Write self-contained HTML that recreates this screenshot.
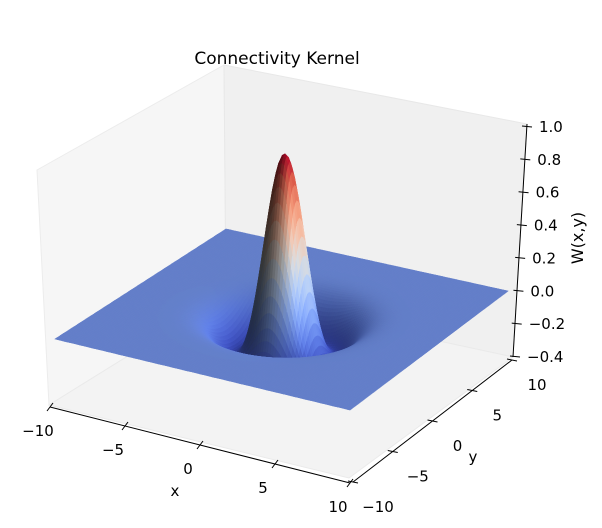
<!DOCTYPE html>
<html><head><meta charset="utf-8"><style>
html,body{margin:0;padding:0;background:#fff;}
svg{display:block;font-family:"DejaVu Sans","Liberation Sans",sans-serif;}
</style></head><body>
<svg id="chart" width="602" height="528" viewBox="0 0 602 528">
  <rect width="602" height="528" fill="#fff"/>
  <polygon points="37,170 224,65 226,295 49,405" fill="#f6f6f6" stroke="#ececec" stroke-width="1"/>
  <polygon points="224,65 527,124 513,357 226,295" fill="#f0f0f0" stroke="#e8e8e8" stroke-width="1"/>
  <polygon points="49,405 226,295 513,357 349,478" fill="#f3f3f3" stroke="#eaeaea" stroke-width="1"/>
  <g id="surface"></g>
  <g id="axes"></g>
  <text x="277" y="64" font-size="17" text-anchor="middle">Connectivity Kernel</text>
  <text x="175" y="496" font-size="15" text-anchor="middle">x</text>
  <text x="473" y="462" font-size="15" text-anchor="middle">y</text>
  <text x="0" y="0" font-size="16" text-anchor="middle" transform="translate(583,238) rotate(-90)">W(x,y)</text>
</svg>
<script>
// kernel data: W = A (1 - b r^2) exp(-r^2 / (2 sigma^2))
const amplitude = [1.0];
const curvature = [0.25];
const sigma = [1.65];
const xRange = [-10, 10];
const yRange = [-10, 10];
const xTicks = [-10, -5, 0, 5, 10];
const yTicks = [-10, -5, 0, 5, 10];
const zTicks = [-0.4, -0.2, 0.0, 0.2, 0.4, 0.6, 0.8, 1.0];
const zTickLabels = ["\u22120.4", "\u22120.2", "0.0", "0.2", "0.4", "0.6", "0.8", "1.0"];
const xTickLabels = ["\u221210", "\u22125", "0", "5", "10"];
const yTickLabels = ["\u221210", "\u22125", "0", "5", "10"];

const NS = "http://www.w3.org/2000/svg";
function W(x, y) {
  const r2 = x * x + y * y;
  return amplitude[0] * (1 - curvature[0] * r2) * Math.exp(-r2 / (2 * sigma[0] * sigma[0]));
}
const C = { L: [55, 339, 163], F: [350, 410, 172], R: [508, 291, 160], B: [226, 229, 158] };
function proj(x, y, z) {
  const u = (x - xRange[0]) / (xRange[1] - xRange[0]);
  const v = (y - yRange[0]) / (yRange[1] - yRange[0]);
  const out = [];
  for (let k = 0; k < 3; k++) {
    out[k] = C.L[k] * (1 - u) * (1 - v) + C.F[k] * u * (1 - v) + C.R[k] * u * v + C.B[k] * (1 - u) * v;
  }
  return [out[0], out[1] - z * out[2]];
}
const stops = [[59,76,192],[98,130,234],[141,176,254],[184,208,249],[221,221,221],[245,196,173],[244,154,123],[222,96,77],[180,4,38]];
function cmap(t) {
  t = Math.max(0, Math.min(1, t)) * (stops.length - 1);
  const i = Math.min(stops.length - 2, Math.floor(t)), f = t - i;
  return stops[i].map((c, k) => c + (stops[i + 1][k] - c) * f);
}
const N = 120;
const xs = [], ys = [];
for (let i = 0; i <= N; i++) { xs.push(xRange[0] + (xRange[1] - xRange[0]) * i / N); ys.push(yRange[0] + (yRange[1] - yRange[0]) * i / N); }
const Z = xs.map(x => ys.map(y => W(x, y)));
let zmin = Infinity, zmax = -Infinity;
Z.forEach(r => r.forEach(z => { zmin = Math.min(zmin, z); zmax = Math.max(zmax, z); }));
const cells = [];
const L = [1, 1, -0.5]; const ln = Math.hypot(...L);
for (let i = 0; i < N; i++) for (let j = 0; j < N; j++) {
  const x0 = xs[i], x1 = xs[i + 1], y0 = ys[j], y1 = ys[j + 1];
  const z00 = Z[i][j], z10 = Z[i + 1][j], z11 = Z[i + 1][j + 1], z01 = Z[i][j + 1];
  const dx = x1 - x0, dy = y1 - y0;
  const gx = ((z10 - z00) + (z11 - z01)) / (2 * dx);
  const gy = ((z01 - z00) + (z11 - z10)) / (2 * dy);
  const nx = -gx * 2.2, ny = -gy * 2.2, nz = 1;
  const nn = Math.hypot(nx, ny, nz);
  const d = (nx * L[0] + ny * L[1] + nz * L[2]) / (nn * ln);
  let k = 0.82 + 0.9 * (d + 0.5 / ln);
  k = Math.max(0.1, Math.min(1.0, k));
  const zc = (z00 + z10 + z11 + z01) / 4;
  const col = cmap((zc - zmin) / (zmax - zmin)).map(c => Math.max(0, Math.min(255, Math.round(c * k))));
  cells.push({ depth: (x0 + x1) / 2 - (y0 + y1) / 2, pts: [proj(x0, y0, z00), proj(x1, y0, z10), proj(x1, y1, z11), proj(x0, y1, z01)], col });
}
cells.sort((a, b) => a.depth - b.depth);
const sg = document.getElementById("surface");
let html = "";
for (const c of cells) {
  const p = c.pts.map(q => q[0].toFixed(1) + "," + q[1].toFixed(1)).join(" ");
  const f = "rgb(" + c.col.join(",") + ")";
  html += '<polygon points="' + p + '" fill="' + f + '" stroke="' + f + '" stroke-width="0.6"/>';
}
sg.innerHTML = html;

const ag = document.getElementById("axes");
function line(x1, y1, x2, y2, name) {
  const l = document.createElementNS(NS, "line");
  l.setAttribute("x1", x1); l.setAttribute("y1", y1); l.setAttribute("x2", x2); l.setAttribute("y2", y2);
  l.setAttribute("stroke", "#000"); l.setAttribute("stroke-width", "1");
  
  
  ag.appendChild(l);
}
function txt(x, y, s, anchor, name) {
  const t = document.createElementNS(NS, "text");
  t.setAttribute("x", x); t.setAttribute("y", y); t.setAttribute("font-size", "15");
  t.setAttribute("text-anchor", anchor);
  t.textContent = s;
  
  
  ag.appendChild(t);
}
const xa = [[50, 407], [350, 483]];
line(xa[0][0], xa[0][1], xa[1][0], xa[1][1], "x-axis-line");
xTicks.forEach((v, i) => {
  const t = (v - xRange[0]) / (xRange[1] - xRange[0]);
  const px = xa[0][0] + (xa[1][0] - xa[0][0]) * t, py = xa[0][1] + (xa[1][1] - xa[0][1]) * t;
  line(px - 3, py + 4, px + 3, py - 4, "x-tick");
  txt(px - 12, py + 29, xTickLabels[i], "middle", "x-tick-label");
});
const ya = [[353, 482], [512, 360]];
line(ya[0][0], ya[0][1], ya[1][0], ya[1][1], "y-axis-line");
yTicks.forEach((v, i) => {
  const t = (v - yRange[0]) / (yRange[1] - yRange[0]);
  const px = ya[0][0] + (ya[1][0] - ya[0][0]) * t, py = ya[0][1] + (ya[1][1] - ya[0][1]) * t;
  line(px - 5, py - 1, px + 5, py + 1, "y-tick");
  txt(px + 25, py + 30, yTickLabels[i], "middle", "y-tick-label");
});
const za = [[515, 356], [527, 126]];
const zLo = -0.4, zHi = 1.0;
line(513, 357, 527, 124, "z-axis-line");
zTicks.forEach((v, i) => {
  const t = (v - zLo) / (zHi - zLo);
  const px = za[0][0] + (za[1][0] - za[0][0]) * t, py = za[0][1] + (za[1][1] - za[0][1]) * t;
  line(px - 5, py, px + 5, py + 1, "z-tick");
  txt(px + 12, py + 6, zTickLabels[i], "start", "z-tick-label");
});
</script>
</body></html>
